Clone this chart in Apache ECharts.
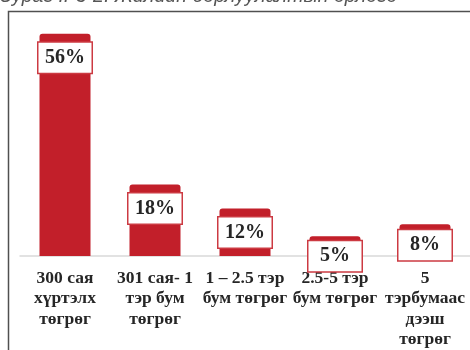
<!DOCTYPE html>
<html>
<head>
<meta charset="utf-8">
<style>
  html, body { margin: 0; padding: 0; background: #fff; }
  #chart { width: 470px; height: 350px; }
</style>
<script src="https://cdn.jsdelivr.net/npm/echarts@6/dist/echarts.min.js"></script>
</head>
<body>
<div id="chart"></div>
<script>
// Annual sales revenue bands and share of firms in each band (%)
const categories = [
  '300 сая\nхүртэлх\nтөгрөг',
  '301 сая- 1\nтэр бум\nтөгрөг',
  '1 – 2.5 тэр\nбум төгрөг',
  '2.5-5 тэр\nбум төгрөг',
  '5\nтэрбумаас\nдээш\nтөгрөг'
];
const shares = [56, 18, 12, 5, 8];
const captionText = 'Зураг II-3-2. Жилийн борлуулалтын орлого';

const BAR_RED = '#C21F2A';
const labelOffsets = [9, 9, 9, 5, 6];

const chart = echarts.init(document.getElementById('chart'), null, { renderer: 'canvas' });

chart.setOption({
  backgroundColor: '#ffffff',
  animation: false,
  grid: { left: 20, right: 0, top: 18, bottom: 88 },
  xAxis: {
    type: 'category',
    data: categories,
    axisLine: { show: true, lineStyle: { color: '#d9d9d9', width: 1.5 } },
    axisTick: { show: false },
    axisLabel: {
      interval: 0,
      margin: 12,
      color: '#262626',
      fontFamily: '"Liberation Serif", "Times New Roman", serif',
      fontWeight: 'bold',
      fontSize: 17.5,
      lineHeight: 20.5
    }
  },
  yAxis: {
    type: 'value',
    min: 0,
    max: 60,
    show: false,
    splitLine: { show: false }
  },
  series: [{
    type: 'bar',
    barWidth: 51,
    data: shares.map((v, i) => ({
      value: v,
      label: { distance: labelOffsets[i] }
    })),
    itemStyle: { color: BAR_RED, borderRadius: [3, 3, 0, 0] },
    label: {
      show: true,
      position: 'insideTop',
      formatter: '{c}%',
      color: '#262626',
      fontFamily: '"Liberation Serif", "Times New Roman", serif',
      fontWeight: 'bold',
      fontSize: 20,
      lineHeight: 22,
      backgroundColor: '#ffffff',
      borderColor: '#CC3A42',
      borderWidth: 1.5,
      padding: [4, 0],
      width: 53,
      align: 'center'
    }
  }],
  graphic: [
    {
      type: 'text',
      left: 0,
      top: -13,
      style: {
        text: captionText,
        fill: '#555555',
        font: 'italic 19.5px "Liberation Sans", Arial, sans-serif'
      }
    },
    {
      type: 'polyline',
      shape: { points: [[8.5, 352], [8.5, 11.5], [472, 11.5]] },
      style: { stroke: '#505050', lineWidth: 1.5, fill: null }
    }
  ]
});
</script>
</body>
</html>
